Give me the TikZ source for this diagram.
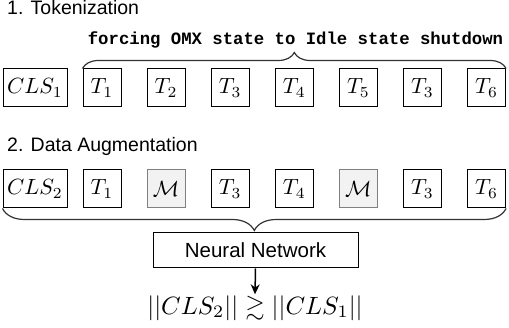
\documentclass[tikz,border=0pt]{standalone}
\usepackage{amssymb}
\usepackage{graphicx}
\usepackage{fontspec}
\newfontfamily\hsans{Liberation Sans}
\newfontfamily\tmono{Liberation Mono}
\usetikzlibrary{decorations.pathreplacing,arrows.meta}
\newcommand\tokmath[1]{\scalebox{2.2}{$#1$}}
\newcommand\resmath[1]{\scalebox{2.5}{$#1$}}
\begin{document}
\begin{tikzpicture}[x=1pt,y=-1pt,
  tok/.style={draw, line width=1pt, minimum width=38pt, minimum height=38pt, inner sep=0pt},
  clsbox/.style={tok, minimum width=64pt},
  maskbox/.style={tok, draw=black!50, fill=black!5},
  heading/.style={anchor=base west, inner sep=0pt, font=\hsans\fontsize{19.5}{22}\selectfont},
  bracedeco/.style={decorate, line width=1.2pt, draw=black!80},
]
\useasboundingbox (0,0) rectangle (509,328);
% headings
\node[heading] (h1) at (7,15) {1. Tokenization};
\node[heading] (h2) at (7,152) {2. Data Augmentation};
% row 1
\node[clsbox] (c1) at (35,88) {\tokmath{CLS_1}};
\node[tok] (a1) at (102,88) {\tokmath{T_1}};
\node[tok] (a2) at (166.1,88) {\tokmath{T_2}};
\node[tok] (a3) at (230.2,88) {\tokmath{T_3}};
\node[tok] (a4) at (294.3,88) {\tokmath{T_4}};
\node[tok] (a5) at (358.4,88) {\tokmath{T_5}};
\node[tok] (a6) at (422.5,88) {\tokmath{T_3}};
\node[tok] (a7) at (486.6,88) {\tokmath{T_6}};
\draw[bracedeco, decoration={brace, amplitude=16pt}] (a1.north west) -- (a7.north east);
\node[anchor=base, inner sep=0pt, font=\tmono\bfseries\fontsize{17.3}{20}\selectfont] (txt) at (295.5,45) {forcing OMX state to Idle state shutdown};
% row 2
\node[clsbox] (c2) at (35,189) {\tokmath{CLS_2}};
\node[tok] (b1) at (102,189) {\tokmath{T_1}};
\node[maskbox] (b2) at (166.1,189) {\tokmath{\mathcal{M}}};
\node[tok] (b3) at (230.2,189) {\tokmath{T_3}};
\node[tok] (b4) at (294.3,189) {\tokmath{T_4}};
\node[maskbox] (b5) at (358.4,189) {\tokmath{\mathcal{M}}};
\node[tok] (b6) at (422.5,189) {\tokmath{T_3}};
\node[tok] (b7) at (486.6,189) {\tokmath{T_6}};
\draw[bracedeco, decoration={brace, amplitude=22pt}] (b7.south east) -- (c2.south west);
% network
\node[draw, line width=1pt, minimum width=205pt, minimum height=35pt, inner sep=0pt, font=\hsans\fontsize{20.5}{24}\selectfont] (nn) at (255.5,250.5) {Neural Network};
\node[inner sep=1pt] (res) at (255,308) {\resmath{||CLS_2||\gtrsim||CLS_1||}};
\draw[line width=1.5pt, -{Stealth[length=10pt,width=9pt]}] (nn.south) -- (res.north);
\end{tikzpicture}
\end{document}
